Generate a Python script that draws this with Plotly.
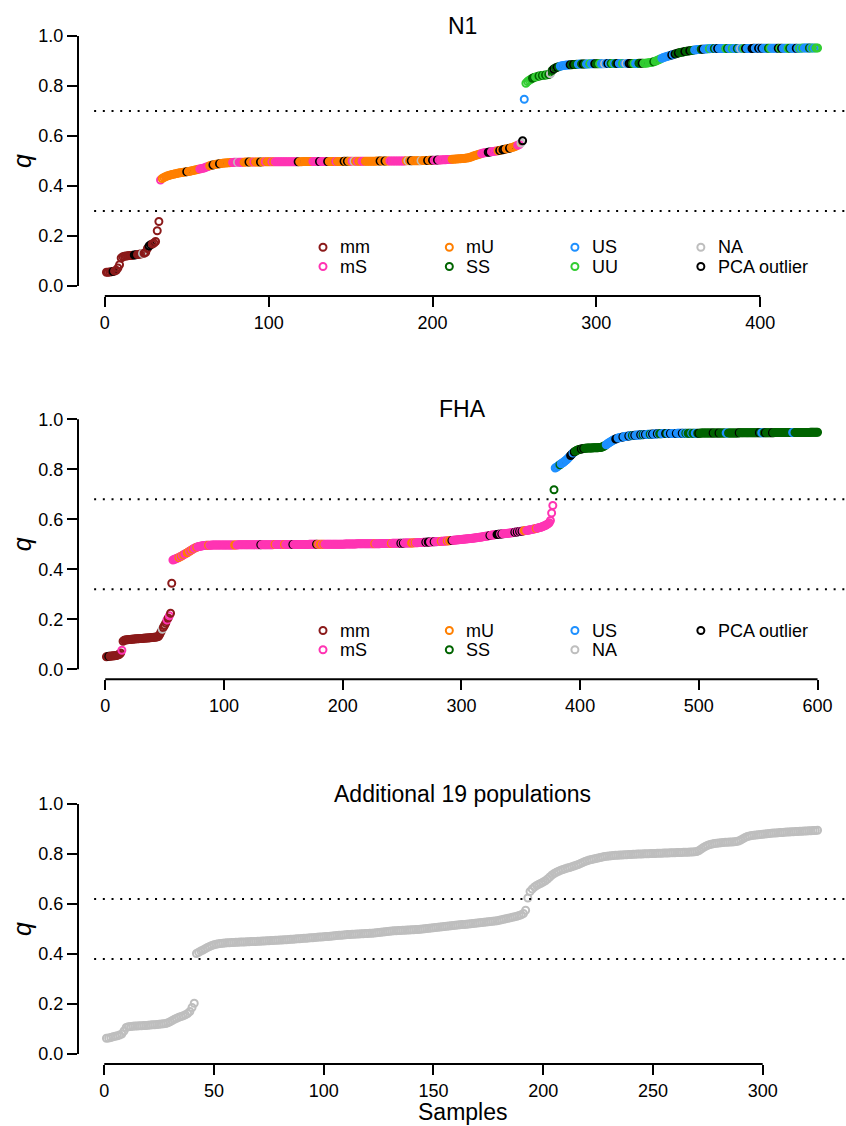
import plotly.graph_objects as go

# ---------------------------------------------------------------------------
# Sorted admixture proportions q, one value per sample, split into segments.
# Group codes: m=mm, s=mS, u=mU, G=SS, B=US, U=UU, n=NA, k=PCA outlier
# ---------------------------------------------------------------------------

# ----- N1 (435 samples) -----
n1_low_q = [
    0.055, 0.055, 0.056, 0.057, 0.058, 0.060, 0.063, 0.072, 0.085, 0.112,
    0.117, 0.119, 0.120, 0.121, 0.122, 0.122, 0.123, 0.124, 0.125, 0.126,
    0.127, 0.128, 0.130, 0.131, 0.135, 0.150, 0.160, 0.165, 0.168, 0.172,
    0.178, 0.221, 0.258,
]
n1_low_grp = "mmmmkmmmmm" "mmmmmmmkkm" "mmnmmmkkmm" "mmm"

n1_mid_q = [
    0.424, 0.430, 0.434, 0.437, 0.440, 0.442, 0.444,
    0.446, 0.447, 0.449, 0.450, 0.452, 0.453, 0.454, 0.455, 0.456, 0.457,
    0.458, 0.459, 0.461, 0.462, 0.464, 0.465, 0.467, 0.468, 0.470, 0.471,
    0.473, 0.476, 0.478, 0.481, 0.483, 0.484, 0.486, 0.487, 0.488, 0.489,
    0.490, 0.491, 0.492, 0.492, 0.493, 0.493, 0.494, 0.494, 0.495, 0.495,
    0.495, 0.495, 0.495, 0.495, 0.495, 0.496, 0.496, 0.496, 0.496, 0.496,
    0.496, 0.496, 0.496, 0.496, 0.496, 0.496, 0.497, 0.497, 0.497, 0.497,
    0.497, 0.497, 0.497, 0.497, 0.497, 0.497, 0.497, 0.497, 0.497, 0.497,
    0.497, 0.497, 0.497, 0.497, 0.497, 0.497, 0.497, 0.497, 0.497, 0.497,
    0.498, 0.498, 0.498, 0.498, 0.498, 0.498, 0.498, 0.498, 0.498, 0.498,
    0.498, 0.498, 0.498, 0.498, 0.498, 0.498, 0.498, 0.498, 0.498, 0.498,
    0.498, 0.498, 0.498, 0.498, 0.498, 0.499, 0.499, 0.499, 0.499, 0.499,
    0.499, 0.499, 0.499, 0.499, 0.499, 0.499, 0.499, 0.499, 0.499, 0.499,
    0.499, 0.499, 0.499, 0.499, 0.499, 0.500, 0.500, 0.500, 0.500, 0.500,
    0.500, 0.500, 0.500, 0.500, 0.500, 0.500, 0.500, 0.500, 0.500, 0.500,
    0.500, 0.500, 0.500, 0.501, 0.501, 0.501, 0.501, 0.501, 0.501, 0.501,
    0.501, 0.501, 0.501, 0.502, 0.502, 0.502, 0.502, 0.503, 0.503, 0.503,
    0.503, 0.503, 0.504, 0.504, 0.504, 0.505, 0.505, 0.505, 0.506, 0.506,
    0.506, 0.507, 0.507, 0.508, 0.508, 0.509, 0.509, 0.510, 0.510, 0.511,
    0.512, 0.513, 0.515, 0.517, 0.520, 0.522, 0.524, 0.526, 0.528, 0.530,
    0.532, 0.533, 0.534, 0.535, 0.536, 0.537, 0.538, 0.539, 0.540, 0.541,
    0.542, 0.544, 0.545, 0.547, 0.548, 0.550, 0.551, 0.553, 0.555, 0.557,
    0.560, 0.563, 0.566, 0.572, 0.581,
]
n1_mid_grp = (
    "suuuuuuuuu" "uuuuuukuuu" "uuuussssss" "uukuuukuuu" "uuuusssnss"
    "suuukuusuu" "ukuusuuusu" "ssssssssss" "sssskuuuuu" "uuusssskss"
    "sskuuuusuu" "uukukuusnu" "suussuuuuu" "uuuukuukuu" "ssssssssss"
    "unukuuuuun" "uuukuukssk" "ssssssssuu" "uuuuuuuuuu" "uuuuuussss"
    "kkssssukuk" "kuukuuuuss" "nk"
)

n1_high_q = [
    0.747, 0.811, 0.818, 0.823, 0.827,
    0.831, 0.834, 0.836, 0.838, 0.840, 0.841, 0.842, 0.843, 0.844, 0.845,
    0.846, 0.849, 0.862, 0.868, 0.872, 0.875, 0.877, 0.879, 0.881, 0.882,
    0.883, 0.884, 0.884, 0.885, 0.885, 0.886, 0.886, 0.887, 0.887, 0.888,
    0.888, 0.888, 0.888, 0.888, 0.888, 0.889, 0.889, 0.889, 0.889, 0.889,
    0.889, 0.889, 0.889, 0.889, 0.889, 0.890, 0.890, 0.890, 0.890, 0.890,
    0.890, 0.890, 0.890, 0.890, 0.890, 0.890, 0.890, 0.890, 0.890, 0.890,
    0.890, 0.890, 0.890, 0.890, 0.890, 0.891, 0.891, 0.891, 0.891, 0.891,
    0.892, 0.893, 0.894, 0.895, 0.897, 0.899, 0.902, 0.905, 0.908, 0.911,
    0.914, 0.916, 0.918, 0.920, 0.922, 0.924, 0.926, 0.928, 0.930, 0.932,
    0.934, 0.935, 0.936, 0.938, 0.939, 0.940, 0.941, 0.942, 0.943, 0.944,
    0.945, 0.946, 0.946, 0.947, 0.947, 0.948, 0.948, 0.949, 0.949, 0.950,
    0.950, 0.950, 0.950, 0.950, 0.950, 0.950, 0.950, 0.950, 0.950, 0.950,
    0.950, 0.950, 0.950, 0.950, 0.950, 0.950, 0.950, 0.950, 0.950, 0.950,
    0.950, 0.950, 0.950, 0.950, 0.950, 0.951, 0.951, 0.951, 0.951, 0.951,
    0.951, 0.951, 0.951, 0.951, 0.951, 0.951, 0.951, 0.951, 0.951, 0.951,
    0.951, 0.951, 0.951, 0.951, 0.951, 0.951, 0.951, 0.951, 0.951, 0.951,
    0.951, 0.951, 0.951, 0.951, 0.951, 0.952, 0.952, 0.952, 0.952, 0.952,
    0.952, 0.952, 0.952, 0.952, 0.952,
]
n1_high_grp = (
    "BUUUUGGUUG" "UGUGUGnGkG" "kGBBBBBBkG" "kGGBBGkGBB" "UBBkGGUBBn"
    "BkBGUBGkBB" "UBnBkkGUBB" "GGkUUUUUUG" "UUUUBBBBBB" "kBkGkGGGkG"
    "GkGGBBBBGk" "BBBUBBGBkB" "BBBUGBBUBB" "GBnBUkBBBk" "kBBkBkBBBG"
    "UBBBBkUkBB" "BUGBBBkBUB" "UBBBGBUBUU"
)

# ----- FHA (600 samples) -----
fha_low_q = [
    0.050, 0.051, 0.052, 0.052, 0.053, 0.053, 0.054, 0.054, 0.055, 0.056,
    0.058, 0.060, 0.065, 0.076, 0.112, 0.116, 0.117, 0.118, 0.118, 0.119,
    0.119, 0.120, 0.120, 0.121, 0.121, 0.122, 0.122, 0.122, 0.123, 0.123,
    0.123, 0.124, 0.124, 0.125, 0.125, 0.125, 0.126, 0.126, 0.127, 0.127,
    0.128, 0.128, 0.129, 0.130, 0.132, 0.140, 0.150, 0.160, 0.168, 0.176,
    0.185, 0.197, 0.205, 0.214, 0.224, 0.344,
]
fha_low_grp = "mmkmmmmmmm" "mmmsmmmmmm" "mmmmmmmmmm" "mmmmmmmmmm" "mmmmmmmnmm" "msmsmm"

fha_mid_q = [
    0.437, 0.439, 0.441, 0.443, 0.445, 0.447, 0.450, 0.452, 0.455, 0.458,
    0.461, 0.463, 0.466, 0.469, 0.472, 0.475, 0.478, 0.481, 0.484, 0.486,
    0.488, 0.490, 0.491, 0.492, 0.493, 0.494, 0.495, 0.495, 0.496, 0.496,
    0.496, 0.496, 0.496, 0.497, 0.497, 0.497, 0.497, 0.497, 0.497, 0.497,
    0.497, 0.497, 0.497, 0.497, 0.497, 0.497, 0.497, 0.497, 0.497, 0.497,
    0.497, 0.497, 0.497, 0.497, 0.497, 0.498, 0.498, 0.498, 0.498, 0.498,
    0.498, 0.498, 0.498, 0.498, 0.498, 0.498, 0.498, 0.498, 0.498, 0.498,
    0.498, 0.498, 0.498, 0.498, 0.498, 0.498, 0.498, 0.498, 0.498, 0.498,
    0.498, 0.498, 0.498, 0.498, 0.498, 0.499, 0.499, 0.499, 0.499, 0.499,
    0.499, 0.499, 0.499, 0.499, 0.499, 0.499, 0.499, 0.499, 0.499, 0.499,
    0.499, 0.499, 0.499, 0.499, 0.499, 0.499, 0.499, 0.499, 0.499, 0.499,
    0.499, 0.499, 0.499, 0.499, 0.499, 0.500, 0.500, 0.500, 0.500, 0.500,
    0.500, 0.500, 0.500, 0.500, 0.500, 0.500, 0.500, 0.500, 0.500, 0.500,
    0.500, 0.500, 0.500, 0.500, 0.500, 0.500, 0.500, 0.500, 0.500, 0.500,
    0.500, 0.500, 0.500, 0.500, 0.500, 0.501, 0.501, 0.501, 0.501, 0.501,
    0.501, 0.501, 0.501, 0.501, 0.501, 0.502, 0.502, 0.502, 0.502, 0.502,
    0.502, 0.502, 0.502, 0.502, 0.502, 0.502, 0.502, 0.502, 0.502, 0.502,
    0.502, 0.502, 0.502, 0.502, 0.502, 0.503, 0.503, 0.503, 0.503, 0.503,
    0.503, 0.503, 0.503, 0.503, 0.503, 0.504, 0.504, 0.504, 0.504, 0.504,
    0.504, 0.504, 0.504, 0.504, 0.504, 0.505, 0.505, 0.505, 0.505, 0.505,
    0.505, 0.505, 0.505, 0.506, 0.506, 0.506, 0.506, 0.507, 0.507, 0.507,
    0.507, 0.508, 0.508, 0.508, 0.508, 0.509, 0.509, 0.509, 0.509, 0.510,
    0.510, 0.510, 0.510, 0.511, 0.511, 0.511, 0.512, 0.512, 0.512, 0.513,
    0.513, 0.513, 0.514, 0.514, 0.515, 0.515, 0.516, 0.516, 0.517, 0.517,
    0.518, 0.518, 0.519, 0.519, 0.520, 0.520, 0.521, 0.521, 0.522, 0.522,
    0.523, 0.523, 0.524, 0.524, 0.525, 0.526, 0.526, 0.527, 0.528, 0.528,
    0.529, 0.530, 0.531, 0.532, 0.532, 0.533, 0.534, 0.535, 0.536, 0.537,
    0.537, 0.538, 0.539, 0.539, 0.540, 0.540, 0.541, 0.541, 0.542, 0.542,
    0.543, 0.543, 0.544, 0.544, 0.545, 0.546, 0.546, 0.547, 0.548, 0.549,
    0.549, 0.550, 0.551, 0.552, 0.552, 0.553, 0.554, 0.555, 0.555, 0.556,
    0.557, 0.558, 0.559, 0.560, 0.561, 0.562, 0.563, 0.564, 0.566, 0.567,
    0.568, 0.570, 0.572, 0.574, 0.576, 0.579, 0.582, 0.586, 0.595, 0.625,
    0.655,
]
fha_mid_grp = (
    "sssssususu" "ssuusususs" "usssssssss" "usssssssss" "ssssssssss"
    "ssuussssss" "ssssssssss" "ssssksssss" "ssssssusss" "ssssusssss"
    "skssssssss" "ssssssssss" "skusuususs" "ssssssssss" "ssssssssss"
    "ssssssssss" "ssssssssss" "usssssssss" "ssssusssss" "ssksksssss"
    "suususssss" "ssskskksss" "ksssssusss" "susuukssss" "ssssssssss"
    "ssssssssss" "ssssssskss" "ssskkkskss" "ssssssssks" "ksksksuuss"
    "ssssssusss" "ssssssssss" "s"
)

fha_high_q = [
    0.718,
    0.805, 0.808, 0.811, 0.815, 0.818, 0.822, 0.825, 0.828, 0.832, 0.836,
    0.840, 0.845, 0.850, 0.855, 0.860, 0.865, 0.869, 0.872, 0.875, 0.877,
    0.879, 0.880, 0.881, 0.882, 0.883, 0.884, 0.884, 0.885, 0.885, 0.885,
    0.885, 0.885, 0.886, 0.886, 0.886, 0.886, 0.886, 0.887, 0.887, 0.888,
    0.890, 0.892, 0.895, 0.898, 0.902, 0.905, 0.908, 0.911, 0.914, 0.917,
    0.919, 0.921, 0.923, 0.925, 0.926, 0.927, 0.928, 0.929, 0.930, 0.931,
    0.932, 0.932, 0.933, 0.934, 0.934, 0.935, 0.935, 0.936, 0.936, 0.937,
    0.937, 0.937, 0.938, 0.938, 0.938, 0.939, 0.939, 0.939, 0.940, 0.940,
    0.940, 0.940, 0.941, 0.941, 0.941, 0.941, 0.942, 0.942, 0.942, 0.942,
    0.942, 0.943, 0.943, 0.943, 0.943, 0.943, 0.943, 0.943, 0.943, 0.943,
    0.943, 0.943, 0.943, 0.944, 0.944, 0.944, 0.944, 0.944, 0.944, 0.944,
    0.944, 0.944, 0.944, 0.944, 0.944, 0.944, 0.944, 0.944, 0.944, 0.944,
    0.944, 0.944, 0.944, 0.945, 0.945, 0.945, 0.945, 0.945, 0.945, 0.945,
    0.945, 0.945, 0.945, 0.945, 0.945, 0.945, 0.945, 0.945, 0.945, 0.945,
    0.945, 0.945, 0.945, 0.945, 0.945, 0.945, 0.945, 0.945, 0.945, 0.945,
    0.945, 0.945, 0.945, 0.945, 0.945, 0.946, 0.946, 0.946, 0.946, 0.946,
    0.946, 0.946, 0.946, 0.946, 0.946, 0.946, 0.946, 0.946, 0.946, 0.946,
    0.946, 0.946, 0.946, 0.946, 0.946, 0.946, 0.946, 0.946, 0.946, 0.946,
    0.946, 0.946, 0.946, 0.946, 0.946, 0.947, 0.947, 0.947, 0.947, 0.947,
    0.947, 0.947, 0.947, 0.947, 0.947, 0.947, 0.947, 0.947, 0.947, 0.947,
    0.947, 0.947, 0.947, 0.947, 0.947, 0.947, 0.947, 0.947, 0.947, 0.947,
    0.947, 0.947, 0.947, 0.947, 0.947, 0.948, 0.948, 0.948, 0.948, 0.948,
    0.948, 0.948,
]
fha_high_grp = (
    "G"
    "BBBBGBBBBB" "BBBkkBkGGG" "GGkGkGGGGG" "GGGGGGGGGG" "GGGBBBBBBB"
    "BkkBBBBkBB" "BBkBBGBkBB" "BBkBGBkBBB" "GBkBBBkBGG" "BBBkGBBkBB"
    "BBkBBBBkBB" "GBGGGBGGBB" "GkGGGGGGGG" "GGGkGGGGkG" "GGGGBBGGGG"
    "GGGGGkGGGG" "GGGGGGGGGG" "GGkGBBGkGG" "GGGkGGGGGG" "GGGGGGGGGG"
    "BBGGGGGGGG" "GGGGGGGGGG" "GG"
)

# ----- Additional 19 populations (325 samples, no group labels) -----
add_low_q = [
    0.063, 0.064, 0.066, 0.069, 0.071, 0.073, 0.076, 0.080, 0.092, 0.106,
    0.109, 0.110, 0.111, 0.112, 0.112, 0.113, 0.113, 0.114, 0.114, 0.115,
    0.116, 0.117, 0.117, 0.118, 0.119, 0.120, 0.121, 0.122, 0.125, 0.129,
    0.134, 0.139, 0.143, 0.147, 0.150, 0.153, 0.157, 0.162, 0.170, 0.186,
    0.203,
]
add_mid_q = [
    0.402, 0.407, 0.412, 0.416, 0.421, 0.426, 0.430, 0.434, 0.437, 0.439,
    0.441, 0.442, 0.443, 0.444, 0.445, 0.445, 0.446, 0.446, 0.447, 0.447,
    0.448, 0.448, 0.448, 0.449, 0.449, 0.450, 0.450, 0.450, 0.451, 0.451,
    0.452, 0.452, 0.453, 0.453, 0.454, 0.454, 0.455, 0.455, 0.456, 0.456,
    0.457, 0.457, 0.458, 0.459, 0.459, 0.460, 0.461, 0.461, 0.462, 0.463,
    0.463, 0.464, 0.465, 0.465, 0.466, 0.467, 0.468, 0.468, 0.469, 0.470,
    0.470, 0.471, 0.472, 0.473, 0.474, 0.475, 0.475, 0.476, 0.477, 0.478,
    0.478, 0.479, 0.479, 0.480, 0.480, 0.481, 0.481, 0.482, 0.482, 0.483,
    0.483, 0.484, 0.485, 0.486, 0.487, 0.488, 0.489, 0.490, 0.491, 0.492,
    0.493, 0.493, 0.494, 0.494, 0.495, 0.495, 0.496, 0.496, 0.497, 0.497,
    0.498, 0.498, 0.499, 0.500, 0.501, 0.502, 0.503, 0.504, 0.505, 0.506,
    0.507, 0.508, 0.509, 0.510, 0.511, 0.512, 0.513, 0.514, 0.515, 0.516,
    0.517, 0.518, 0.518, 0.519, 0.520, 0.521, 0.522, 0.523, 0.524, 0.525,
    0.526, 0.527, 0.528, 0.529, 0.530, 0.531, 0.532, 0.533, 0.535, 0.537,
    0.539, 0.541, 0.543, 0.545, 0.547, 0.549, 0.551, 0.554, 0.557, 0.562,
    0.575,
]
add_high_q = [
    0.624, 0.650, 0.660, 0.668, 0.674, 0.679, 0.683, 0.688, 0.693, 0.700,
    0.708, 0.716, 0.722, 0.727, 0.731, 0.735, 0.738, 0.741, 0.744, 0.746,
    0.749, 0.752, 0.755, 0.758, 0.762, 0.766, 0.770, 0.773, 0.776, 0.778,
    0.780, 0.782, 0.784, 0.786, 0.788, 0.790, 0.791, 0.792, 0.793, 0.794,
    0.795, 0.795, 0.796, 0.796, 0.797, 0.797, 0.798, 0.798, 0.799, 0.799,
    0.800, 0.800, 0.800, 0.801, 0.801, 0.801, 0.802, 0.802, 0.802, 0.803,
    0.803, 0.803, 0.804, 0.804, 0.804, 0.805, 0.805, 0.805, 0.806, 0.806,
    0.806, 0.807, 0.807, 0.807, 0.808, 0.808, 0.809, 0.810, 0.814, 0.820,
    0.826, 0.831, 0.835, 0.838, 0.840, 0.842, 0.843, 0.844, 0.845, 0.846,
    0.847, 0.847, 0.848, 0.848, 0.849, 0.850, 0.852, 0.856, 0.861, 0.866,
    0.870, 0.872, 0.874, 0.875, 0.876, 0.877, 0.878, 0.879, 0.880, 0.881,
    0.882, 0.883, 0.884, 0.884, 0.885, 0.886, 0.886, 0.887, 0.888, 0.888,
    0.889, 0.889, 0.890, 0.890, 0.891, 0.891, 0.892, 0.892, 0.893, 0.893,
    0.894, 0.894, 0.895,
]

# Thresholds (dotted reference lines) per panel
n1_thresholds = [0.3, 0.7]
fha_thresholds = [0.32, 0.68]
add_thresholds = [0.38, 0.62]

# Axis ticks
y_ticks = [0.0, 0.2, 0.4, 0.6, 0.8, 1.0]
n1_x_ticks = [0, 100, 200, 300, 400]
fha_x_ticks = [0, 100, 200, 300, 400, 500, 600]
add_x_ticks = [0, 50, 100, 150, 200, 250, 300]

# Legend layout: columns of entries
n1_legend = [["mm", "mS"], ["mU", "SS"], ["US", "UU"], ["NA", "PCA outlier"]]
fha_legend = [["mm", "mS"], ["mU", "SS"], ["US", "NA"], ["PCA outlier"]]

GROUP_COLORS = {
    "mm": "#8B1A1A", "mS": "#FF34B3", "mU": "#FF7F00", "SS": "#006400",
    "US": "#1E90FF", "UU": "#32CD32", "NA": "#BEBEBE", "PCA outlier": "#000000",
}
CODES = {"m": "mm", "s": "mS", "u": "mU", "G": "SS", "B": "US",
         "U": "UU", "n": "NA", "k": "PCA outlier"}

FONT = "Liberation Sans, Arial, Helvetica, sans-serif"
MARKER_SIZE = 7
MARKER_LINE = 2

# ---------------------------------------------------------------------------
n1_q = n1_low_q + n1_mid_q + n1_high_q
n1_grp = n1_low_grp + n1_mid_grp + n1_high_grp
fha_q = fha_low_q + fha_mid_q + fha_high_q
fha_grp = fha_low_grp + fha_mid_grp + fha_high_grp
add_q = add_low_q + add_mid_q + add_high_q
add_grp = "n" * len(add_q)

assert len(n1_q) == len(n1_grp) == 435, (len(n1_q), len(n1_grp))
assert len(fha_q) == len(fha_grp) == 600, (len(fha_q), len(fha_grp))
assert len(add_q) == 325, len(add_q)

panels = [
    dict(title="N1", q=n1_q, grp=n1_grp, thr=n1_thresholds, xt=n1_x_ticks,
         legend=n1_legend, dom=[0.73988, 1.0]),
    dict(title="FHA", q=fha_q, grp=fha_grp, thr=fha_thresholds, xt=fha_x_ticks,
         legend=fha_legend, dom=[0.37062, 0.63073]),
    dict(title="Additional 19 populations", q=add_q, grp=add_grp, thr=add_thresholds,
         xt=add_x_ticks, legend=None, dom=[0.0, 0.26012]),
]

LEGEND_COLS = [0.319, 0.4835, 0.647, 0.811]   # symbol positions (fraction of x domain)
LEGEND_ROWS = [0.155, 0.078]                  # q values of legend rows
TEXT_GAP = 0.0195

fig = go.Figure()
shapes, annotations = [], []
layout_axes = {}

for k, p in enumerate(panels, start=1):
    sfx = "" if k == 1 else str(k)
    xa, ya = "x" + sfx, "y" + sfx
    n = len(p["q"])
    pad = 0.04 * (n - 1)
    xr = [1 - pad, n + pad]
    colors = [GROUP_COLORS[CODES[c]] for c in p["grp"]]

    fig.add_trace(go.Scatter(
        x=list(range(1, n + 1)), y=p["q"], mode="markers",
        marker=dict(symbol="circle-open", size=MARKER_SIZE, color=colors,
                    line=dict(width=MARKER_LINE, color=colors)),
        xaxis=xa, yaxis=ya, showlegend=False, hoverinfo="skip",
    ))

    tick_style = dict(ticks="outside", ticklen=10, tickwidth=2, tickcolor="black",
                      showline=False, showgrid=False, zeroline=False,
                      tickfont=dict(family=FONT, size=18, color="black"))
    layout_axes["xaxis" + sfx] = dict(domain=[0, 1], range=xr, anchor=ya,
                                      tickvals=p["xt"], **tick_style)
    layout_axes["yaxis" + sfx] = dict(domain=p["dom"], range=[-0.04, 1.04], anchor=xa,
                                      tickvals=y_ticks, tickformat=".1f", **tick_style)

    # axis lines spanning the tick range
    shapes.append(dict(type="line", xref=xa + " domain", yref=ya, x0=0, x1=0,
                       y0=y_ticks[0], y1=y_ticks[-1], line=dict(color="black", width=2)))
    shapes.append(dict(type="line", xref=xa, yref=ya + " domain", x0=p["xt"][0],
                       x1=p["xt"][-1], y0=0, y1=0, line=dict(color="black", width=2)))
    # dotted thresholds
    for t in p["thr"]:
        shapes.append(dict(type="line", xref=xa + " domain", yref=ya, x0=0.021, x1=1,
                           y0=t, y1=t, line=dict(color="black", width=2, dash="2px,6.7px")))

    # panel title
    annotations.append(dict(text=p["title"], xref=xa + " domain", yref=ya + " domain",
                            x=0.5, y=1.0, xanchor="center", yanchor="middle",
                            showarrow=False, font=dict(family=FONT, size=23, color="black")))
    # y label
    annotations.append(dict(text="<i>q</i>", xref="paper", yref=ya + " domain",
                            x=-0.073, y=0.5, xanchor="center", yanchor="middle",
                            textangle=-90, showarrow=False,
                            font=dict(family=FONT, size=25, color="black")))

    # legend
    if p["legend"]:
        lx, ly, lc = [], [], []
        for ci, col in enumerate(p["legend"]):
            for ri, name in enumerate(col):
                f = LEGEND_COLS[ci]
                lx.append(xr[0] + f * (xr[1] - xr[0]))
                ly.append(LEGEND_ROWS[ri])
                lc.append(GROUP_COLORS[name])
                annotations.append(dict(text=name, xref=xa + " domain", yref=ya,
                                        x=f + TEXT_GAP, y=LEGEND_ROWS[ri],
                                        xanchor="left", yanchor="middle", showarrow=False,
                                        font=dict(family=FONT, size=18, color="black")))
        fig.add_trace(go.Scatter(
            x=lx, y=ly, mode="markers",
            marker=dict(symbol="circle-open", size=MARKER_SIZE, color=lc,
                        line=dict(width=MARKER_LINE, color=lc)),
            xaxis=xa, yaxis=ya, showlegend=False, hoverinfo="skip",
        ))

annotations.append(dict(text="Samples", xref="x3 domain", yref="paper", x=0.5, y=-0.0462,
                        xanchor="center", yanchor="middle", showarrow=False,
                        font=dict(family=FONT, size=23, color="black")))

fig.update_layout(
    width=846, height=1126,
    margin=dict(l=78, r=0, t=26, b=62),
    paper_bgcolor="white", plot_bgcolor="white",
    font=dict(family=FONT, color="black"),
    shapes=shapes, annotations=annotations, showlegend=False,
    **layout_axes,
)

fig.write_html("out.html", config={"displayModeBar": False})
